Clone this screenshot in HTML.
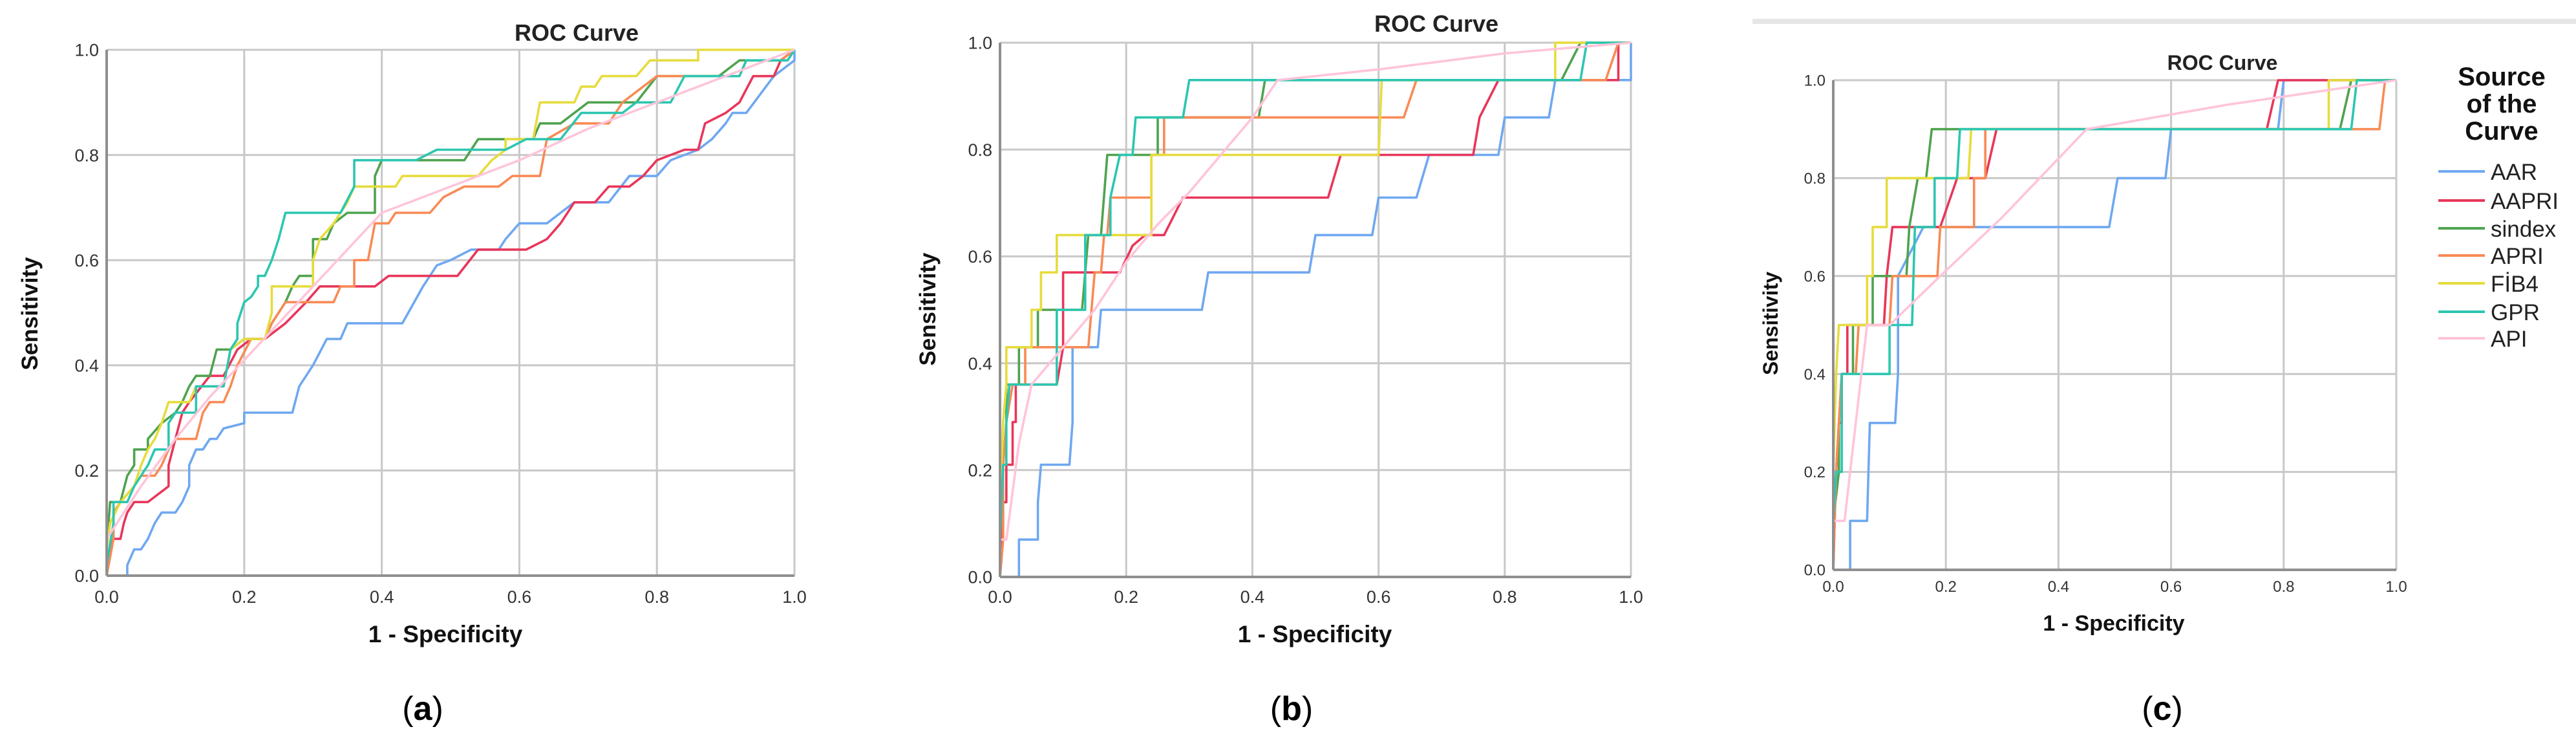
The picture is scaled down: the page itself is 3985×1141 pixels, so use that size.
<!DOCTYPE html>
<html><head><meta charset="utf-8">
<style>
html,body{margin:0;padding:0;background:#fff;}
svg{display:block;}
text{font-family:"Liberation Sans",sans-serif;}
</style></head>
<body>
<svg id="fig" width="3985" height="1141" viewBox="0 0 3985 1141" xmlns="http://www.w3.org/2000/svg">
<rect x="2711" y="29" width="1274" height="8" fill="#e6e6e6"/>
<g id="legend">
<text x="3870" y="132" font-size="40" font-weight="bold" text-anchor="middle" fill="#111">Source</text>
<text x="3870" y="174" font-size="40" font-weight="bold" text-anchor="middle" fill="#111">of the</text>
<text x="3870" y="216" font-size="40" font-weight="bold" text-anchor="middle" fill="#111">Curve</text>
</g>
</svg>
<script>
// ---------- data (fpr, tpr pairs) ----------
const seriesNames = ["AAR","AAPRI","sindex","APRI","FIB4","GPR","API"];
const seriesColors = ["#6fa8f0","#e8365a","#4fa34f","#f98a55","#e6dc3c","#2cc6b0","#ffc4da"];
const xTicks = [0,0.2,0.4,0.6,0.8,1.0];
const yTicks = [0,0.2,0.4,0.6,0.8,1.0];
const tickLabels = ["0.0","0.2","0.4","0.6","0.8","1.0"];

const aAAR = [[0,0],[0.03,0],[0.03,0.02],[0.04,0.05],[0.05,0.05],[0.06,0.07],[0.07,0.1],[0.08,0.12],[0.1,0.12],[0.11,0.14],[0.12,0.17],[0.12,0.21],[0.13,0.24],[0.14,0.24],[0.15,0.26],[0.16,0.26],[0.17,0.28],[0.2,0.29],[0.2,0.31],[0.27,0.31],[0.28,0.36],[0.3,0.4],[0.32,0.45],[0.34,0.45],[0.35,0.48],[0.43,0.48],[0.46,0.55],[0.48,0.59],[0.5,0.6],[0.53,0.62],[0.57,0.62],[0.58,0.64],[0.6,0.67],[0.64,0.67],[0.66,0.69],[0.68,0.71],[0.73,0.71],[0.76,0.76],[0.8,0.76],[0.82,0.79],[0.86,0.81],[0.88,0.83],[0.9,0.86],[0.91,0.88],[0.93,0.88],[0.97,0.95],[1,0.98],[1,1]];
const aAAPRI = [[0,0],[0.005,0.05],[0.01,0.07],[0.02,0.07],[0.025,0.1],[0.03,0.12],[0.04,0.14],[0.06,0.14],[0.07,0.15],[0.09,0.17],[0.09,0.21],[0.1,0.26],[0.11,0.31],[0.12,0.33],[0.15,0.38],[0.17,0.38],[0.19,0.43],[0.21,0.45],[0.23,0.45],[0.26,0.48],[0.29,0.52],[0.31,0.55],[0.39,0.55],[0.41,0.57],[0.51,0.57],[0.54,0.62],[0.61,0.62],[0.64,0.64],[0.66,0.67],[0.68,0.71],[0.71,0.71],[0.73,0.74],[0.76,0.74],[0.78,0.76],[0.8,0.79],[0.84,0.81],[0.86,0.81],[0.87,0.86],[0.9,0.88],[0.92,0.9],[0.94,0.95],[0.97,0.95],[0.98,0.98],[1,1]];
const aSindex = [[0,0.05],[0.005,0.14],[0.02,0.14],[0.03,0.19],[0.04,0.21],[0.04,0.24],[0.06,0.24],[0.06,0.26],[0.08,0.29],[0.1,0.31],[0.11,0.33],[0.12,0.36],[0.13,0.38],[0.15,0.38],[0.16,0.43],[0.18,0.43],[0.2,0.45],[0.23,0.45],[0.24,0.48],[0.25,0.5],[0.26,0.52],[0.27,0.55],[0.28,0.57],[0.3,0.57],[0.3,0.64],[0.32,0.64],[0.33,0.67],[0.35,0.69],[0.39,0.69],[0.39,0.76],[0.4,0.79],[0.52,0.79],[0.53,0.81],[0.54,0.83],[0.62,0.83],[0.63,0.86],[0.66,0.86],[0.68,0.88],[0.7,0.9],[0.77,0.9],[0.8,0.95],[0.89,0.95],[0.92,0.98],[0.99,0.98],[1,1]];
const aAPRI = [[0,0],[0.01,0.07],[0.01,0.12],[0.02,0.14],[0.04,0.17],[0.05,0.19],[0.07,0.19],[0.08,0.21],[0.09,0.24],[0.1,0.26],[0.13,0.26],[0.14,0.31],[0.15,0.33],[0.17,0.33],[0.18,0.36],[0.19,0.4],[0.21,0.45],[0.23,0.45],[0.24,0.48],[0.25,0.5],[0.26,0.52],[0.33,0.52],[0.34,0.55],[0.36,0.55],[0.36,0.6],[0.38,0.6],[0.39,0.67],[0.41,0.67],[0.42,0.69],[0.47,0.69],[0.49,0.72],[0.52,0.74],[0.57,0.74],[0.59,0.76],[0.63,0.76],[0.64,0.83],[0.68,0.86],[0.73,0.86],[0.75,0.9],[0.78,0.93],[0.8,0.95],[0.92,0.95],[0.93,0.98],[0.98,0.98],[1,1]];
const aFIB4 = [[0,0.05],[0.005,0.1],[0.02,0.14],[0.04,0.17],[0.05,0.21],[0.06,0.24],[0.07,0.26],[0.08,0.29],[0.09,0.33],[0.12,0.33],[0.13,0.36],[0.17,0.36],[0.18,0.43],[0.2,0.45],[0.23,0.45],[0.24,0.5],[0.24,0.55],[0.3,0.55],[0.3,0.6],[0.31,0.64],[0.33,0.67],[0.35,0.71],[0.36,0.74],[0.42,0.74],[0.43,0.76],[0.54,0.76],[0.56,0.79],[0.58,0.81],[0.58,0.83],[0.62,0.83],[0.63,0.9],[0.68,0.9],[0.69,0.93],[0.71,0.93],[0.72,0.95],[0.77,0.95],[0.79,0.98],[0.86,0.98],[0.86,1],[1,1]];
const aGPR = [[0,0.02],[0.01,0.1],[0.01,0.14],[0.03,0.14],[0.04,0.17],[0.05,0.19],[0.06,0.21],[0.07,0.24],[0.09,0.24],[0.09,0.29],[0.1,0.31],[0.13,0.31],[0.13,0.36],[0.17,0.36],[0.18,0.43],[0.19,0.45],[0.19,0.48],[0.2,0.52],[0.21,0.53],[0.22,0.55],[0.22,0.57],[0.23,0.57],[0.24,0.6],[0.25,0.64],[0.26,0.69],[0.34,0.69],[0.36,0.74],[0.36,0.79],[0.45,0.79],[0.48,0.81],[0.58,0.81],[0.61,0.83],[0.66,0.83],[0.69,0.88],[0.75,0.88],[0.77,0.9],[0.82,0.9],[0.84,0.95],[0.92,0.95],[0.93,0.98],[0.99,0.98],[1,1]];
const aAPI = [[0,0.07],[0.05,0.17],[0.1,0.26],[0.15,0.34],[0.2,0.41],[0.25,0.48],[0.3,0.55],[0.35,0.62],[0.4,0.69],[0.5,0.74],[0.6,0.79],[0.7,0.85],[0.8,0.9],[0.9,0.95],[1,1]];

const bAAR = [[0,0],[0.03,0],[0.03,0.07],[0.06,0.07],[0.06,0.14],[0.065,0.21],[0.11,0.21],[0.115,0.29],[0.115,0.43],[0.155,0.43],[0.16,0.5],[0.32,0.5],[0.33,0.57],[0.49,0.57],[0.5,0.64],[0.59,0.64],[0.6,0.71],[0.66,0.71],[0.68,0.79],[0.79,0.79],[0.8,0.86],[0.87,0.86],[0.88,0.93],[1,0.93],[1,1]];
const bAAPRI = [[0,0],[0.003,0.14],[0.01,0.14],[0.01,0.21],[0.02,0.21],[0.02,0.29],[0.025,0.29],[0.025,0.36],[0.09,0.36],[0.1,0.43],[0.1,0.57],[0.19,0.57],[0.21,0.62],[0.23,0.64],[0.26,0.64],[0.29,0.71],[0.52,0.71],[0.54,0.79],[0.75,0.79],[0.76,0.86],[0.79,0.93],[0.98,0.93],[0.98,1],[1,1]];
const bSindex = [[0,0.07],[0.005,0.21],[0.01,0.29],[0.01,0.36],[0.03,0.36],[0.03,0.43],[0.06,0.43],[0.06,0.5],[0.13,0.5],[0.135,0.57],[0.14,0.64],[0.16,0.64],[0.17,0.79],[0.25,0.79],[0.25,0.86],[0.41,0.86],[0.42,0.93],[0.89,0.93],[0.92,1],[1,1]];
const bAPRI = [[0,0],[0.005,0.07],[0.005,0.21],[0.01,0.29],[0.02,0.36],[0.04,0.36],[0.04,0.43],[0.14,0.43],[0.145,0.5],[0.15,0.57],[0.16,0.57],[0.165,0.64],[0.17,0.64],[0.175,0.71],[0.24,0.71],[0.24,0.79],[0.26,0.79],[0.26,0.86],[0.64,0.86],[0.66,0.93],[0.96,0.93],[0.98,1],[1,1]];
const bFIB4 = [[0,0.14],[0.005,0.29],[0.01,0.36],[0.01,0.43],[0.05,0.43],[0.05,0.5],[0.065,0.5],[0.065,0.57],[0.09,0.57],[0.09,0.64],[0.24,0.64],[0.24,0.79],[0.6,0.79],[0.605,0.93],[0.88,0.93],[0.88,1],[1,1]];
const bGPR = [[0,0.07],[0.005,0.21],[0.01,0.21],[0.01,0.29],[0.015,0.36],[0.09,0.36],[0.09,0.5],[0.135,0.5],[0.135,0.64],[0.175,0.64],[0.175,0.71],[0.19,0.79],[0.21,0.79],[0.215,0.86],[0.29,0.86],[0.3,0.93],[0.92,0.93],[0.93,1],[1,1]];
const bAPI = [[0,0.07],[0.01,0.07],[0.03,0.25],[0.05,0.36],[0.1,0.43],[0.15,0.5],[0.2,0.59],[0.25,0.66],[0.3,0.72],[0.35,0.79],[0.4,0.86],[0.44,0.93],[0.6,0.95],[0.8,0.98],[1,1]];

const cAAR = [[0,0],[0.03,0],[0.03,0.1],[0.06,0.1],[0.065,0.3],[0.11,0.3],[0.115,0.4],[0.115,0.6],[0.16,0.7],[0.49,0.7],[0.505,0.8],[0.59,0.8],[0.6,0.9],[0.79,0.9],[0.8,1],[1,1]];
const cAAPRI = [[0,0],[0.005,0.2],[0.01,0.3],[0.015,0.3],[0.015,0.4],[0.025,0.4],[0.025,0.5],[0.09,0.5],[0.095,0.6],[0.105,0.7],[0.19,0.7],[0.22,0.8],[0.27,0.8],[0.29,0.9],[0.77,0.9],[0.79,1],[1,1]];
const cSindex = [[0,0.1],[0.01,0.2],[0.01,0.3],[0.015,0.4],[0.035,0.4],[0.035,0.5],[0.07,0.5],[0.07,0.6],[0.13,0.6],[0.135,0.7],[0.15,0.8],[0.165,0.8],[0.175,0.9],[0.9,0.9],[0.92,1],[1,1]];
const cAPRI = [[0,0],[0.005,0.2],[0.01,0.3],[0.015,0.4],[0.04,0.4],[0.045,0.5],[0.1,0.5],[0.105,0.6],[0.185,0.6],[0.19,0.7],[0.25,0.7],[0.25,0.8],[0.27,0.8],[0.27,0.9],[0.97,0.9],[0.98,1],[1,1]];
const cFIB4 = [[0,0.2],[0.005,0.4],[0.01,0.5],[0.06,0.5],[0.06,0.6],[0.07,0.6],[0.07,0.7],[0.095,0.7],[0.095,0.8],[0.24,0.8],[0.245,0.9],[0.88,0.9],[0.88,1],[1,1]];
const cGPR = [[0,0.1],[0.005,0.2],[0.015,0.2],[0.015,0.4],[0.1,0.4],[0.1,0.5],[0.14,0.5],[0.145,0.7],[0.18,0.7],[0.18,0.8],[0.22,0.8],[0.225,0.9],[0.92,0.9],[0.93,1],[1,1]];
const cAPI = [[0,0.1],[0.02,0.1],[0.04,0.3],[0.06,0.5],[0.1,0.5],[0.19,0.6],[0.3,0.72],[0.45,0.9],[0.7,0.95],[1,1]];

const NS = "http://www.w3.org/2000/svg";
const svg = document.getElementById('fig');
function mk(tag, attrs, parent){
  const e = document.createElementNS(NS, tag);
  for (const k in attrs) e.setAttribute(k, attrs[k]);
  (parent||svg).appendChild(e);
  return e;
}
const panels = [
  {id:"a", L:165, R:1229, T:77, B:890, fs:27, series:[aAAR,aAAPRI,aSindex,aAPRI,aFIB4,aGPR,aAPI],
   title:[892,63], xt:[689,993], yt:[46,485], cap:[654,1113], xl:932},
  {id:"b", L:1547, R:2523, T:66, B:892, fs:27, series:[bAAR,bAAPRI,bSindex,bAPRI,bFIB4,bGPR,bAPI],
   title:[2222,49], xt:[2034,993], yt:[1435,478], cap:[1998,1113], xl:932},
  {id:"c", L:2836, R:3707, T:124, B:881, fs:24, series:[cAAR,cAAPRI,cSindex,cAPRI,cFIB4,cGPR,cAPI],
   title:[3438,108], xt:[3270,975], yt:[2738,500], cap:[3345,1113], xl:915}
];
panels.forEach(p=>{
  const g = mk('g',{});
  
  
  const X = v => p.L + v*(p.R-p.L);
  const Y = v => p.B - v*(p.B-p.T);
  xTicks.forEach((t,i)=>{
    const l = mk('line',{x1:X(t),x2:X(t),y1:p.T,y2:p.B,stroke:"#c8c8c8","stroke-width":3},g);
    
    
    const tx = mk('text',{x:X(t),y:p.xl,"font-size":p.fs,"text-anchor":"middle",fill:"#333"},g);
    tx.textContent = tickLabels[i];
    
    
  });
  yTicks.forEach((t,i)=>{
    const l = mk('line',{x1:p.L,x2:p.R,y1:Y(t),y2:Y(t),stroke:"#c8c8c8","stroke-width":3},g);
    
    
    const tx = mk('text',{x:p.L-12,y:Y(t)+p.fs*0.36,"font-size":p.fs,"text-anchor":"end",fill:"#333"},g);
    tx.textContent = tickLabels[i];
    
    
  });
  p.series.forEach((pts,si)=>{
    const d = pts.map((q,j)=>(j?'L':'M')+X(q[0]).toFixed(1)+' '+Y(q[1]).toFixed(1)).join(' ');
    const path = mk('path',{d:d,fill:"none",stroke:seriesColors[si],"stroke-width":3.6,"stroke-linejoin":"round"},g);
    
    
  });
  const ax = mk('line',{x1:p.L,x2:p.L,y1:p.T,y2:p.B,stroke:"#8f8f8f","stroke-width":4},g);
  
  
  const bx = mk('line',{x1:p.L,x2:p.R,y1:p.B,y2:p.B,stroke:"#8f8f8f","stroke-width":4},g);
  
  
  const ti = mk('text',{x:p.title[0],y:p.title[1],"font-size":p.id==="c"?32:36,"font-weight":"bold","text-anchor":"middle",fill:"#222"},g);
  ti.textContent = "ROC Curve";
  
  
  const xt = mk('text',{x:p.xt[0],y:p.xt[1],"font-size":p.id==="c"?34:37,"font-weight":"bold","text-anchor":"middle",fill:"#111"},g);
  xt.textContent = "1 - Specificity";
  
  
  const yt = mk('text',{x:p.yt[0],y:p.yt[1],"font-size":p.id==="c"?32:35,"font-weight":"bold","text-anchor":"middle",fill:"#111",transform:"rotate(-90 "+p.yt[0]+" "+p.yt[1]+")",dy:"12"},g);
  yt.textContent = "Sensitivity";
  
  
  const cap = mk('text',{x:p.cap[0],y:p.cap[1],"font-size":52,"text-anchor":"middle",fill:"#000","font-family":"Liberation Serif, serif"},g);
  cap.innerHTML = '(<tspan font-weight="bold">'+p.id+'</tspan>)';
  
  
});
const legendG = document.getElementById('legend');
const legendY = [265,310,353,395,438,482,523];
seriesNames.forEach((n,i)=>{
  const l = mk('line',{x1:3772,x2:3844,y1:legendY[i],y2:legendY[i],stroke:seriesColors[i],"stroke-width":4},legendG);
  
  
  const t = mk('text',{x:3853,y:legendY[i]+13,"font-size":35,fill:"#222"},legendG);
  t.textContent = n==="FIB4" ? "FİB4" : n;
  
  
});
</script>
</body></html>
